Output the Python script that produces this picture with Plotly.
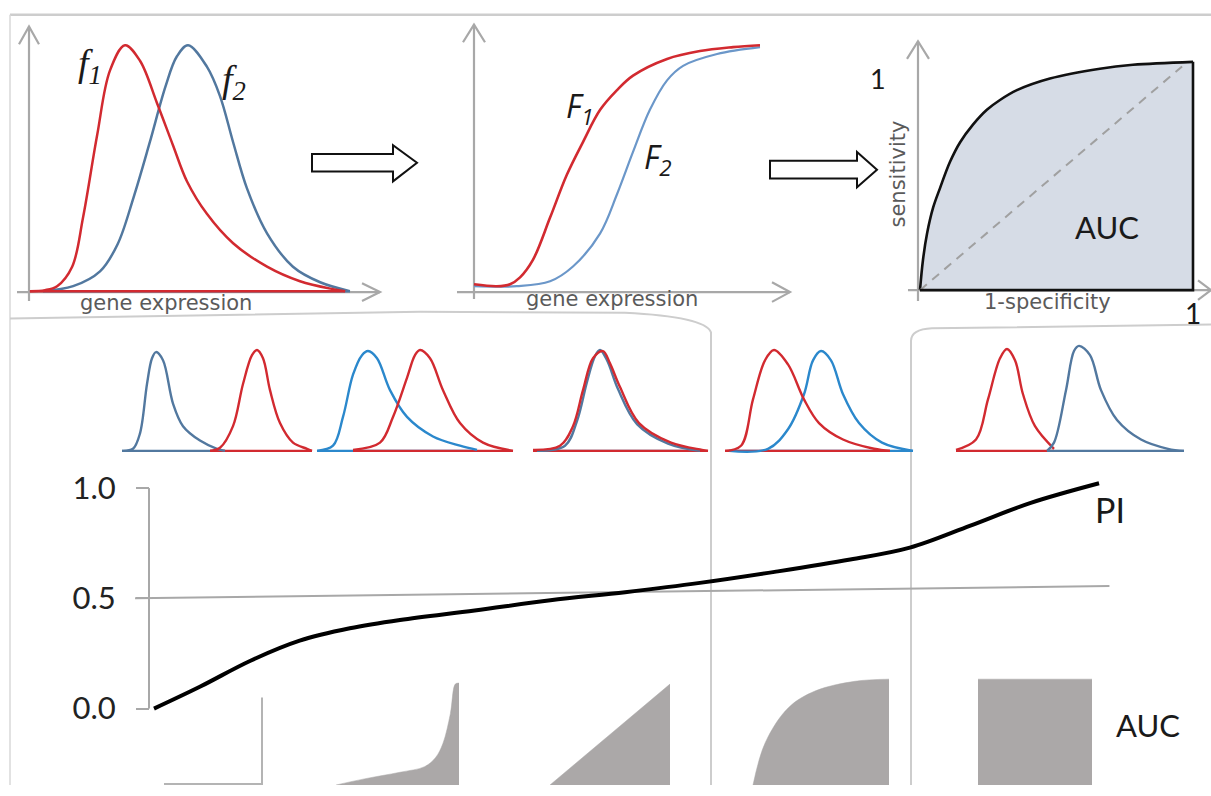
import plotly.graph_objects as go

W, H = 1211, 796

# ---------------- data ----------------
# Panel A: densities over gene expression
f1_x = [0.06, 0.53, 0.91, 1.38, 1.72, 2.16, 2.56, 3.03, 3.5, 4.03, 4.53, 4.97, 5.59, 6.41, 7.47, 8.5, 9.53, 9.91]
f1_y = [0, 0.004, 0.02, 0.099, 0.298, 0.631, 0.893, 0.996, 0.933, 0.762, 0.591, 0.444, 0.313, 0.194, 0.099, 0.04, 0.008, 0]
f2_x = [0.47, 1.41, 2.25, 2.8, 3.3, 3.8, 4.3, 4.65, 5.0, 5.59, 6.0, 6.41, 6.84, 7.47, 8.28, 9.13, 10.06]
f2_y = [0, 0.02, 0.08, 0.19, 0.38, 0.6, 0.83, 0.95, 0.996, 0.909, 0.79, 0.603, 0.417, 0.234, 0.099, 0.036, 0]

# Panel B: cumulative distributions
F1_x = [0, 0.8, 1.26, 1.61, 2.06, 2.66, 3.25, 3.81, 4.41, 5.0, 5.56, 6.75, 7.9, 9.06, 10]
F1_y = [0.028, 0.02, 0.028, 0.056, 0.127, 0.299, 0.474, 0.606, 0.737, 0.817, 0.876, 0.944, 0.976, 0.992, 1.0]
F2_x = [0, 1.5, 2.66, 3.46, 4.41, 5.0, 5.56, 6.15, 6.75, 7.31, 8.5, 10]
F2_y = [0.02, 0.02, 0.04, 0.1, 0.235, 0.394, 0.566, 0.737, 0.857, 0.916, 0.964, 0.992]

# Panel C: ROC curve
roc_fpr = [0, 0.011, 0.026, 0.048, 0.073, 0.11, 0.147, 0.194, 0.245, 0.293, 0.355, 0.476, 0.659, 0.78, 1]
roc_tpr = [0, 0.133, 0.249, 0.361, 0.446, 0.562, 0.648, 0.725, 0.79, 0.833, 0.876, 0.927, 0.97, 0.987, 1]
chance_fpr = [0, 0.96]
chance_tpr = [0, 0.98]

# Middle row: five pairs of densities
p1_blue_x = [0.2, 1.3, 2.0, 2.7, 3.2, 3.6, 4.3, 5.3, 6.3, 8.0, 9.7, 10.5]
p1_blue_y = [0.0, 0.02, 0.17, 0.65, 0.9, 0.96, 0.88, 0.46, 0.24, 0.1, 0.02, 0.0]
p1_red_x = [9.0, 10.0, 11.3, 12.3, 13.2, 13.7, 14.3, 15.0, 16.0, 17.3, 18.7, 19.2]
p1_red_y = [0.0, 0.03, 0.24, 0.65, 0.93, 0.98, 0.9, 0.59, 0.27, 0.08, 0.02, 0.0]

p2_blue_x = [0.2, 1.8, 2.8, 3.8, 4.7, 5.3, 6.2, 7.5, 9.2, 11.8, 14.5, 16.2]
p2_blue_y = [0.0, 0.05, 0.33, 0.74, 0.93, 0.97, 0.9, 0.59, 0.33, 0.14, 0.05, 0.01]
p2_red_x = [3.8, 6.5, 7.8, 9.2, 10.0, 10.5, 11.5, 12.8, 14.5, 16.8, 19.8]
p2_red_y = [0.01, 0.08, 0.33, 0.71, 0.93, 0.98, 0.9, 0.59, 0.27, 0.08, 0.0]

p3_blue_x = [0.7, 3.5, 4.7, 5.7, 6.5, 7.0, 7.7, 8.8, 10.7, 13.8, 17.0]
p3_blue_y = [0.0, 0.05, 0.29, 0.67, 0.92, 0.98, 0.88, 0.6, 0.26, 0.07, 0.0]
p3_red_x = [0.3, 3.0, 4.3, 5.3, 6.3, 7.3, 8.0, 9.0, 10.9, 14.1, 17.2, 17.8]
p3_red_y = [0.01, 0.05, 0.24, 0.59, 0.9, 0.97, 0.85, 0.62, 0.27, 0.08, 0.01, 0.0]

p4_red_x = [0.3, 1.9, 3.1, 4.3, 5.2, 6.6, 8.2, 9.7, 12.1, 15.2, 16.8]
p4_red_y = [0.0, 0.05, 0.5, 0.88, 0.98, 0.84, 0.5, 0.27, 0.11, 0.02, 0.0]
p4_blue_x = [0.7, 4.6, 6.6, 8.2, 9.1, 9.9, 10.9, 12.1, 13.7, 16.0, 19.1]
p4_blue_y = [0.0, 0.02, 0.21, 0.55, 0.88, 0.97, 0.88, 0.55, 0.27, 0.08, 0.0]

p5_red_x = [0.6, 2.6, 3.8, 5.0, 5.7, 6.5, 7.3, 8.5, 10.4]
p5_red_y = [0.01, 0.11, 0.5, 0.9, 0.99, 0.88, 0.55, 0.24, 0.02]
p5_blue_x = [9.7, 10.4, 11.6, 12.4, 12.9, 14.0, 15.1, 16.7, 19.1, 21.8, 23.4]
p5_blue_y = [0.0, 0.08, 0.59, 0.97, 1.02, 0.93, 0.59, 0.3, 0.11, 0.02, 0.0]

# Bottom: PI curve and reference level
pi_t = [0, 0.049, 0.102, 0.154, 0.207, 0.260, 0.339, 0.419, 0.498, 0.577, 0.656, 0.736, 0.799, 0.863, 0.926, 0.999]
pi_y = [0, 0.10, 0.217, 0.308, 0.364, 0.402, 0.445, 0.491, 0.528, 0.57, 0.62, 0.676, 0.73, 0.83, 0.932, 1.022]
ref_t = [-0.02, 1.01]
ref_y = [0.5, 0.556]
pi_ticks = [0, 0.5, 1.0]
pi_ticktext = ["0.0", "0.5", "1.0"]

# Bottom: AUC shapes (ROC areas)
auc0_fpr = [0, 1, 1]
auc0_tpr = [0, 0, 0.85]
auc_low_fpr = [0, 0.23, 0.52, 0.72, 0.81, 0.87, 0.93, 0.97, 1]
auc_low_tpr = [0, 0.06, 0.125, 0.18, 0.27, 0.41, 0.70, 0.99, 1]
auc_half_fpr = [0, 1]
auc_half_tpr = [0, 1]
auc_high_fpr = [0, 0.09, 0.26, 0.46, 0.75, 1]
auc_high_tpr = [0, 0.40, 0.73, 0.89, 0.98, 1]
auc_one_fpr = [0, 1]
auc_one_tpr = [1, 1]

# ---------------- styles ----------------
RED = '#d22a30'
STEEL = '#52789f'
LIGHTBLUE = '#6b97c9'
BRIGHT = '#2b88cc'
AXGRAY = '#a8a8a8'
FRAME = '#cdcdcd'
AUCGRAY = '#aba8a8'

fig = go.Figure()
axes_layout = {}


def ref(i):
    return '' if i == 1 else str(i)


def add_axes(i, box, xo, xs, yo, ys):
    l, r, t, b = box
    axes_layout['xaxis' + ref(i)] = dict(domain=[l / W, r / W], range=[(l - xo) / xs, (r - xo) / xs],
                                         anchor='y' + ref(i), visible=False, fixedrange=True)
    axes_layout['yaxis' + ref(i)] = dict(domain=[1 - b / H, 1 - t / H], range=[(yo - b) / ys, (yo - t) / ys],
                                         anchor='x' + ref(i), visible=False, fixedrange=True)


def line(i, x, y, color, width, spline=True, **kw):
    fig.add_trace(go.Scatter(x=x, y=y, mode='lines',
                             line=dict(color=color, width=width, shape='spline' if spline else 'linear',
                                       smoothing=1.0, **kw.pop('lk', {})),
                             xaxis='x' + ref(i), yaxis='y' + ref(i), showlegend=False, hoverinfo='skip', **kw))


def baseline(i, x, color, width):
    line(i, [x[0], x[-1]], [0, 0], color, width, spline=False)


# Panel A
add_axes(1, (18, 365, 30, 300), 28, 32, 292, 252)
baseline(1, f2_x, STEEL, 2.5)
line(1, f2_x, f2_y, STEEL, 2.5)
line(1, f1_x, f1_y, RED, 2.5)
baseline(1, f1_x, RED, 2.5)

# Panel B
add_axes(2, (465, 775, 30, 300), 474, 28.6, 292, 251)
line(2, F2_x, F2_y, LIGHTBLUE, 2.2)
line(2, F1_x, F1_y, RED, 2.6)

# Panel C
add_axes(3, (912, 1205, 50, 298), 920, 273, 291, 233)
line(3, roc_fpr, roc_tpr, '#111111', 2.6, fill='tozeroy', fillcolor='#d6dce6')
line(3, chance_fpr, chance_tpr, '#a0a0a0', 2, spline=False, lk=dict(dash='9px,7px'))
line(3, [roc_fpr[-1], 1, 0], [roc_tpr[-1], 0, 0], '#111111', 2.6, spline=False)

# Middle row
pairs = [
    (4, 120, [(p1_blue_x, p1_blue_y, STEEL), (p1_red_x, p1_red_y, RED)]),
    (5, 315, [(p2_blue_x, p2_blue_y, BRIGHT), (p2_red_x, p2_red_y, RED)]),
    (6, 530, [(p3_blue_x, p3_blue_y, STEEL), (p3_red_x, p3_red_y, RED)]),
    (7, 722, [(p4_blue_x, p4_blue_y, BRIGHT), (p4_red_x, p4_red_y, RED)]),
    (8, 950, [(p5_red_x, p5_red_y, RED), (p5_blue_x, p5_blue_y, STEEL)]),
]
for idx, x0, curves in pairs:
    add_axes(idx, (x0 - 4, x0 + 245 if idx == 8 else x0 + 205, 342, 460), x0, 10, 455, 105)
    for cx, cy, col in curves:
        baseline(idx, cx, col, 2.4)
    for cx, cy, col in curves:
        line(idx, cx, cy, col, 2.4)

# PI plot
add_axes(9, (130, 1115, 478, 725), 154, 946, 718, 225)
axes_layout['yaxis9'].update(dict(visible=True, anchor='free', position=149 / W, showline=False,
                                  showgrid=False, zeroline=False, tickmode='array', tickvals=pi_ticks,
                                  ticktext=pi_ticktext, ticks='outside', ticklen=13, tickwidth=2,
                                  tickcolor=AXGRAY, ticklabelstandoff=14,
                                  tickfont=dict(family='Lato', size=31, color='#222222')))
line(9, ref_t, ref_y, '#a8a8a8', 2, spline=False)
line(9, pi_t, pi_y, '#000000', 4)

# AUC shapes
add_axes(10, (158, 268, 688, 796), 164, 98, 795, 104)
line(10, auc0_fpr, auc0_tpr, '#b4b4b4', 2, spline=False)
auc_specs = [
    (11, 336, 123, 104, auc_low_fpr, auc_low_tpr, True),
    (12, 550, 120, 103, auc_half_fpr, auc_half_tpr, False),
    (13, 753, 136, 108, auc_high_fpr, auc_high_tpr, True),
    (14, 978, 114, 108, auc_one_fpr, auc_one_tpr, False),
]
for idx, x0, w, h, fx, fy, sp in auc_specs:
    add_axes(idx, (x0 - 3, x0 + w + 3, 796 - h - 4, 796), x0, w, 796, h)
    line(idx, fx, fy, AUCGRAY, 0.5, spline=sp, fill='tozeroy', fillcolor=AUCGRAY)

# ---------------- decorations (paper coordinates) ----------------
shapes = []


def P(x, y):
    return f'{x / W:.5f},{1 - y / H:.5f}'


def path(cmds, color, width, fill=None, layer='below'):
    d = dict(type='path', xref='paper', yref='paper', path=cmds,
             line=dict(color=color, width=width), layer=layer)
    if fill:
        d['fillcolor'] = fill
    shapes.append(d)


def poly(points, color, width, closed=False, fill=None, layer='below'):
    s = 'M ' + ' L '.join(P(x, y) for x, y in points)
    if closed:
        s += ' Z'
    path(s, color, width, fill, layer)


# frame lines
poly([(10, 10), (1211, 10)], FRAME, 2.5)
poly([(10, 10), (10, 796)], '#d9d9d9', 1.5)
path('M ' + P(10, 320) + ' L ' + P(420, 313) + ' L ' + P(625, 314) + ' Q ' + P(705, 318) + ' ' + P(711, 334)
     + ' L ' + P(711, 796), FRAME, 2)
path('M ' + P(911, 796) + ' L ' + P(911, 343) + ' Q ' + P(911, 331) + ' ' + P(932, 330)
     + ' L ' + P(1211, 326), FRAME, 2)

# axis arrows
for a, b, head in [
    ((29, 302), (29, 22), [(19, 40), (29, 22), (39, 40)]),
    ((17, 293), (380, 293), [(362, 284), (380, 293), (362, 302)]),
    ((474, 300), (474, 20), [(463, 38), (474, 20), (485, 38)]),
    ((457, 293), (790, 293), [(772, 283), (790, 293), (772, 303)]),
    ((918, 302), (918, 37), [(907, 55), (918, 37), (929, 55)]),
    ((908, 291), (1211, 291), [(1198, 281), (1211, 291), (1198, 301)]),
]:
    poly([a, b], AXGRAY, 2.2)
    poly(head, AXGRAY, 2.2)

# PI y axis line
poly([(149, 493), (149, 718)], AXGRAY, 2)

# hollow block arrows
poly([(312, 152), (393, 152), (393, 143), (417, 161), (393, 180), (393, 170), (312, 170)],
     '#111111', 2, closed=True, fill='white', layer='above')
poly([(770, 159), (857, 159), (857, 150), (877, 168), (857, 186), (857, 177), (770, 177)],
     '#111111', 2, closed=True, fill='white', layer='above')

# ---------------- texts ----------------
annotations = []


def text(x, y, s, family, size, color='#1a1a1a', angle=0):
    annotations.append(dict(x=x / W, y=1 - y / H, xref='paper', yref='paper', text=s, showarrow=False,
                            xanchor='center', yanchor='middle', textangle=angle,
                            font=dict(family=family, size=size, color=color)))


text(90, 62, '<i>f<sub>1</sub></i>', 'Liberation Serif', 38)
text(234, 79, '<i>f<sub>2</sub></i>', 'Liberation Serif', 38)
text(580, 105, '<i>F<sub>1</sub></i>', 'Open Sans', 32)
text(658, 157, '<i>F<sub>2</sub></i>', 'Open Sans', 32)
text(166, 304, 'gene expression', 'DejaVu Sans', 21, '#5a5a5a')
text(612, 300, 'gene expression', 'DejaVu Sans', 21, '#5a5a5a')
text(878, 75, '1', 'Lato', 27)
text(1193, 314, '1', 'Lato', 28)
text(898, 173, 'sensitivity', 'DejaVu Sans', 21, '#5a5a5a', angle=-90)
text(1047, 303, '1-specificity', 'DejaVu Sans', 21, '#5a5a5a')
text(1107, 227, 'AUC', 'Lato', 31)
text(1110, 515, 'PI', 'Lato', 34)
text(1148, 735, 'AUC', 'Lato', 31)

fig.update_layout(
    width=W, height=H, margin=dict(l=0, r=0, t=0, b=0),
    paper_bgcolor='white', plot_bgcolor='rgba(0,0,0,0)',
    showlegend=False, shapes=shapes, annotations=annotations,
    **axes_layout,
)

fig.write_html('out.html')
